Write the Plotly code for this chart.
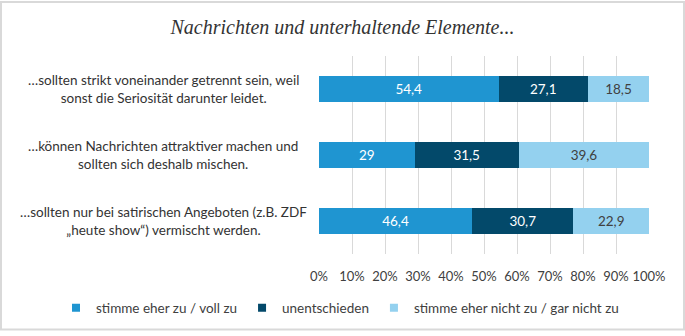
import plotly.graph_objects as go

categories = [
    "…sollten strikt voneinander getrennt sein, weil<br>sonst die Seriosität darunter leidet.",
    "…können Nachrichten attraktiver machen und<br>sollten sich deshalb mischen.",
    "…sollten nur bei satirischen Angeboten (z.B. ZDF<br>„heute show“) vermischt werden.",
]
series_names = ["stimme eher zu / voll zu", "unentschieden", "stimme eher nicht zu / gar nicht zu"]
agree = [54.4, 29, 46.4]
undecided = [27.1, 31.5, 30.7]
disagree = [18.5, 39.6, 22.9]
tick_vals = [0, 10, 20, 30, 40, 50, 60, 70, 80, 90, 100]
tick_text = [f"{v}%" for v in tick_vals]

colors = ["#1f95d1", "#03496a", "#94d1ef"]
text_colors = ["white", "white", "#404040"]

W, H = 685, 336
ML, MR, MT, MB = 319, 36, 56, 78

ypos = [0, 1, 2]

def fmt(v):
    s = f"{v:g}"
    return s.replace(".", ",")

fig = go.Figure()
for name, vals, c, tc in zip(series_names, [agree, undecided, disagree], colors, text_colors):
    fig.add_trace(go.Bar(
        y=ypos, x=vals, orientation="h", name=name, showlegend=False,
        marker=dict(color=c, line=dict(width=0)),
        text=[fmt(v) for v in vals], textposition="inside", insidetextanchor="middle",
        textfont=dict(color=tc, size=13.5, family="Lato"),
        hoverinfo="skip",
    ))

# small square legend keys
for name, c in zip(series_names, colors):
    fig.add_trace(go.Scatter(
        x=[None], y=[None], mode="markers", name=name,
        marker=dict(symbol="square", size=8, color=c),
        hoverinfo="skip",
    ))

pw = W - ML - MR
ph = H - MT - MB

# category labels, centred multi-line text left of the plot
for i, cat in enumerate(categories):
    fig.add_annotation(
        x=-(ML - 163) / pw, xref="paper", y=ypos[i], yref="y",
        text=cat, showarrow=False, align="center", xanchor="center", yanchor="middle",
        font=dict(family="Lato", size=13.5, color="#333333"),
    )

# outer frame of the chart
fig.add_shape(
    type="rect", xref="paper", yref="paper",
    x0=-(ML - 1) / pw, x1=1 + (MR - 1) / pw,
    y0=-(MB - 1) / ph, y1=1 + (MT - 1) / ph,
    line=dict(color="#d9d9d9", width=2), fillcolor="rgba(0,0,0,0)", layer="below",
)

fig.update_layout(
    width=W, height=H,
    margin=dict(l=ML, r=MR, t=MT, b=MB),
    barmode="stack", bargap=0.6,
    paper_bgcolor="white", plot_bgcolor="white",
    title=dict(
        text="<i>Nachrichten und unterhaltende Elemente...</i>",
        x=0.5, xref="container", y=1 - 27 / H, yref="container", xanchor="center", yanchor="middle",
        font=dict(family="Liberation Serif", size=20, color="#333333"),
    ),
    xaxis=dict(
        range=[0, 100], tickvals=tick_vals, ticktext=tick_text,
        showgrid=True, gridcolor="#d9d9d9", gridwidth=1, zeroline=False,
        tickfont=dict(family="Lato", size=13, color="#404040"),
        ticks="outside", ticklen=10, tickcolor="rgba(0,0,0,0)",
        showline=False, fixedrange=True,
    ),
    yaxis=dict(
        range=[2.5, -0.5], showticklabels=False, showgrid=False, zeroline=False, fixedrange=True,
    ),
    legend=dict(
        orientation="h", xref="paper", yref="paper",
        x=-(ML - 56) / pw, xanchor="left", y=-(313 - (H - MB)) / ph, yanchor="middle",
        font=dict(family="Lato", size=13.5, color="#404040"),
        traceorder="normal", tracegroupgap=0, itemwidth=30,
    ),
    showlegend=True,
)

fig.write_html("out.html")
